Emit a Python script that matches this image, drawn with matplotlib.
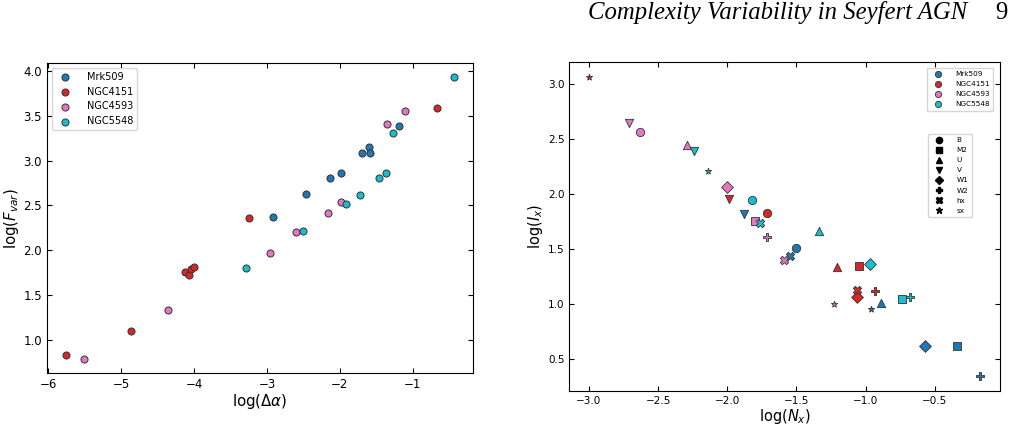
import matplotlib.pyplot as plt
from matplotlib.lines import Line2D

# --- данные ---
galaxies = ["Mrk509", "NGC4151", "NGC4593", "NGC5548"]
colors = ["#1f77b4", "#d62728", "#e377c2", "#17becf"]

# левая панель: log(Δα) и log(Fvar)
dalpha_mrk509 = [-2.92, -2.46, -2.14, -1.98, -1.69, -1.60, -1.58, -1.19]
fvar_mrk509 = [2.37, 2.63, 2.81, 2.86, 3.08, 3.15, 3.08, 3.38]
dalpha_ngc4151 = [-5.75, -4.87, -4.12, -4.07, -4.04, -4.00, -3.24, -0.67]
fvar_ngc4151 = [0.83, 1.10, 1.76, 1.72, 1.79, 1.81, 2.36, 3.59]
dalpha_ngc4593 = [-5.51, -4.36, -2.96, -2.60, -2.16, -1.99, -1.35, -1.11]
fvar_ngc4593 = [0.79, 1.33, 1.97, 2.20, 2.42, 2.54, 3.41, 3.55]
dalpha_ngc5548 = [-3.29, -2.50, -1.92, -1.73, -1.46, -1.37, -1.27, -0.44]
fvar_ngc5548 = [1.80, 2.22, 2.52, 2.62, 2.81, 2.86, 3.31, 3.93]

# правая панель: log(Nx) и log(Ix) по полосам
bands = ["B", "M2", "U", "V", "W1", "W2", "hx", "sx"]
band_markers = ["o", "s", "^", "v", "D", "P", "X", "*"]
nx_mrk509 = [-1.50, -0.34, -0.89, -1.88, -0.57, -0.17, -1.55, -0.96]
ix_mrk509 = [1.51, 0.62, 1.01, 1.82, 0.62, 0.35, 1.44, 0.96]
nx_ngc4151 = [-1.71, -1.05, -1.21, -1.99, -1.06, -0.93, -1.06, -3.00]
ix_ngc4151 = [1.83, 1.35, 1.34, 1.96, 1.07, 1.12, 1.13, 3.07]
nx_ngc4593 = [-2.63, -1.80, -2.29, -2.71, -2.00, -1.71, -1.59, -1.23]
ix_ngc4593 = [2.57, 1.76, 2.45, 2.65, 2.07, 1.61, 1.40, 1.00]
nx_ngc5548 = [-1.82, -0.74, -1.34, -2.24, -0.97, -0.68, -1.76, -2.14]
ix_ngc5548 = [1.95, 1.05, 1.67, 2.39, 1.37, 1.07, 1.74, 2.21]

left_x = [dalpha_mrk509, dalpha_ngc4151, dalpha_ngc4593, dalpha_ngc5548]
left_y = [fvar_mrk509, fvar_ngc4151, fvar_ngc4593, fvar_ngc5548]
right_x = [nx_mrk509, nx_ngc4151, nx_ngc4593, nx_ngc5548]
right_y = [ix_mrk509, ix_ngc4151, ix_ngc4593, ix_ngc5548]

fig = plt.figure(figsize=(10.13, 4.29), dpi=100)

# колонтитул страницы
fig.text(0.955, 0.970, "Complexity Variability in Seyfert AGN", family="Liberation Serif",
         style="italic", fontsize=17.8, ha="right", va="center")
fig.text(0.995, 0.970, "9", family="Liberation Serif", fontsize=17.8, ha="right", va="center")

# --- левая панель ---
ax1 = fig.add_axes([0.0464, 0.1305, 0.4205, 0.7226])
for name, c, xs, ys in zip(galaxies, colors, left_x, left_y):
    ax1.scatter(xs, ys, s=26, color=c, edgecolor="#333333", linewidth=0.7, label=name, zorder=3)
ax1.set_xlabel(r"$\log(\Delta\alpha)$", fontsize=10.8, labelpad=1)
ax1.set_ylabel(r"$\log(F_{var})$", fontsize=10.8, labelpad=2)
ax1.tick_params(direction="in", top=True, right=True, labelsize=8.5)
ax1.legend(loc="upper left", fontsize=7, handletextpad=1.2)

# --- правая панель ---
ax2 = fig.add_axes([0.562, 0.0893, 0.4252, 0.767])
for name, c, xs, ys in zip(galaxies, colors, right_x, right_y):
    for b, m, x, y in zip(bands, band_markers, xs, ys):
        size = 22 if m == "*" else 36
        ax2.scatter(x, y, s=size, marker=m, color=c, edgecolor="#333333", linewidth=0.6, zorder=3)
ax2.set_xlabel(r"$\log(N_x)$", fontsize=10.5, labelpad=1)
ax2.set_ylabel(r"$\log(I_x)$", fontsize=10.5, labelpad=2)
ax2.tick_params(direction="in", top=True, right=True, labelsize=7.5)

gal_handles = [Line2D([], [], marker="o", ls="", color=c, markeredgecolor="#333333",
                      markeredgewidth=0.6, markersize=4.5) for c in colors]
leg1 = ax2.legend(gal_handles, galaxies, loc="upper right", fontsize=5.2,
                  bbox_to_anchor=(0.993, 0.993), handletextpad=1.4, labelspacing=0.55,
                  borderpad=0.5)
ax2.add_artist(leg1)
band_handles = [Line2D([], [], marker=m, ls="", color="k", markersize=4.5) for m in band_markers]
ax2.legend(band_handles, bands, loc="upper right", fontsize=5.2,
           bbox_to_anchor=(0.943, 0.792), handletextpad=1.4, labelspacing=0.55,
           borderpad=0.5)

fig.savefig("out.png", dpi=100)
